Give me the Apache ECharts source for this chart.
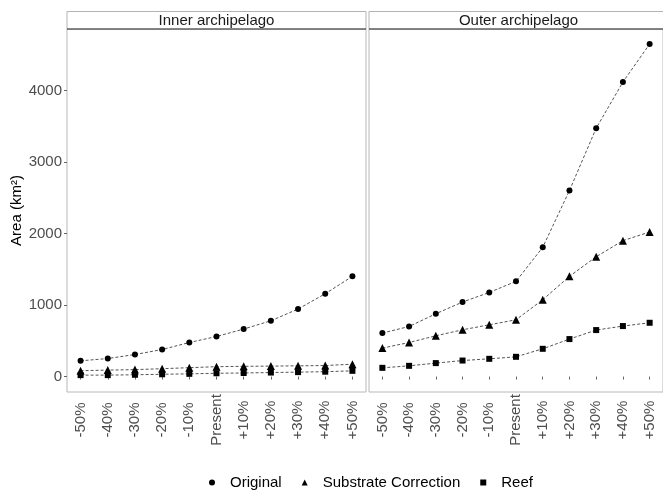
<!DOCTYPE html>
<html>
<head>
<meta charset="utf-8">
<script src="https://cdn.jsdelivr.net/npm/echarts@6/dist/echarts.min.js"></script>
<style>html,body{margin:0;padding:0;background:#fff;}#c{width:663px;height:493px;}</style>
</head>
<body>
<div id="c"></div>
<script>
const categories = ['-50%','-40%','-30%','-20%','-10%','Present','+10%','+20%','+30%','+40%','+50%'];
const panels = ['Inner archipelago','Outer archipelago'];
const seriesNames = ['Original','Substrate Correction','Reef'];
const innerOriginal = [220, 252, 308, 378, 476, 560, 664, 780, 944, 1158, 1401];
const innerSubstrate = [82, 90, 97, 110, 124, 138, 143, 146, 150, 154, 173];
const innerReef = [20, 20, 25, 32, 38, 46, 50, 56, 62, 68, 80];
const outerOriginal = [608, 700, 878, 1042, 1176, 1331, 1807, 2601, 3473, 4118, 4650];
const outerSubstrate = [398, 476, 570, 654, 724, 794, 1074, 1401, 1676, 1900, 2022];
const outerReef = [122, 150, 188, 224, 248, 276, 388, 524, 650, 706, 752];
const yTicks = [0, 1000, 2000, 3000, 4000];

const font = 'Liberation Sans, Arial, sans-serif';
const symbols = ['circle','triangle','rect'];
const symSizes = [6, 8, 6];
const chart = echarts.init(document.getElementById('c'));

const panelData = [[innerOriginal, innerSubstrate, innerReef],[outerOriginal, outerSubstrate, outerReef]];
const grids = [
  {left: 67, top: 29, width: 299, height: 363},
  {left: 369, top: 29, width: 299, height: 363}
];
const series = [];
panelData.forEach((arrs, p) => {
  arrs.forEach((vals, i) => {
    series.push({
      name: seriesNames[i], type: 'line', xAxisIndex: p, yAxisIndex: p,
      data: vals, symbol: symbols[i], symbolSize: symSizes[i],
      itemStyle: {color: '#000'},
      lineStyle: {color: '#555', width: 1, type: [3, 2]},
      emphasis: {disabled: true}, silent: true, animation: false, clip: false
    });
  });
});

const graphics = [];
grids.forEach((g, p) => {
  graphics.push({type: 'rect', shape: {x: g.left, y: 11.5, width: g.width, height: 17.5},
    style: {fill: '#fff', stroke: '#b3b3b3', lineWidth: 1}});
  graphics.push({type: 'line', shape: {x1: g.left, y1: 29, x2: g.left + g.width, y2: 29},
    style: {stroke: '#333', lineWidth: 1}});
  graphics.push({type: 'text', x: g.left + 299/2, y: 20.5,
    style: {text: panels[p], font: '15px ' + font, fill: '#1a1a1a', align: 'center', verticalAlign: 'middle'}});
});

chart.setOption({
  animation: false,
  backgroundColor: '#fff',
  grid: grids.map(g => Object.assign({show: true, borderColor: '#b8b8b8', borderWidth: 1, backgroundColor: '#fff'}, g)),
  xAxis: [0, 1].map(p => ({
    type: 'category', gridIndex: p, data: categories, boundaryGap: true,
    axisLine: {show: false},
    axisTick: {show: true, alignWithLabel: true, length: 3, lineStyle: {color: '#666'}},
    axisLabel: {rotate: 90, align: 'center', verticalAlign: 'middle', margin: 28, interval: 0,
      fontSize: 15, fontFamily: font, color: '#4d4d4d'}
  })),
  yAxis: [0, 1].map(p => ({
    type: 'value', gridIndex: p, min: -216, max: 4860,
    splitLine: {show: false},
    axisLine: {show: false},
    axisTick: {show: p === 0, length: 3, customValues: yTicks, lineStyle: {color: '#666'}},
    axisLabel: {show: p === 0, customValues: yTicks, formatter: v => String(v),
      fontSize: 15, fontFamily: font, color: '#4d4d4d', margin: 5},
    name: p === 0 ? 'Area (km²)' : '', nameLocation: 'middle', nameGap: 38,
    nameTextStyle: {fontSize: 15, fontFamily: font, color: '#000'}
  })),
  legend: {
    data: seriesNames.map((n, i) => ({name: n, icon: symbols[i]})),
    top: 470, left: 204, itemWidth: 6, itemHeight: 6, itemGap: 20,
    textStyle: {fontSize: 15, fontFamily: font, color: '#000', padding: [0, 0, 0, 10]},
    itemStyle: {color: '#000'}, lineStyle: {opacity: 0}
  },
  graphic: graphics,
  series: series
});
</script>
</body>
</html>
